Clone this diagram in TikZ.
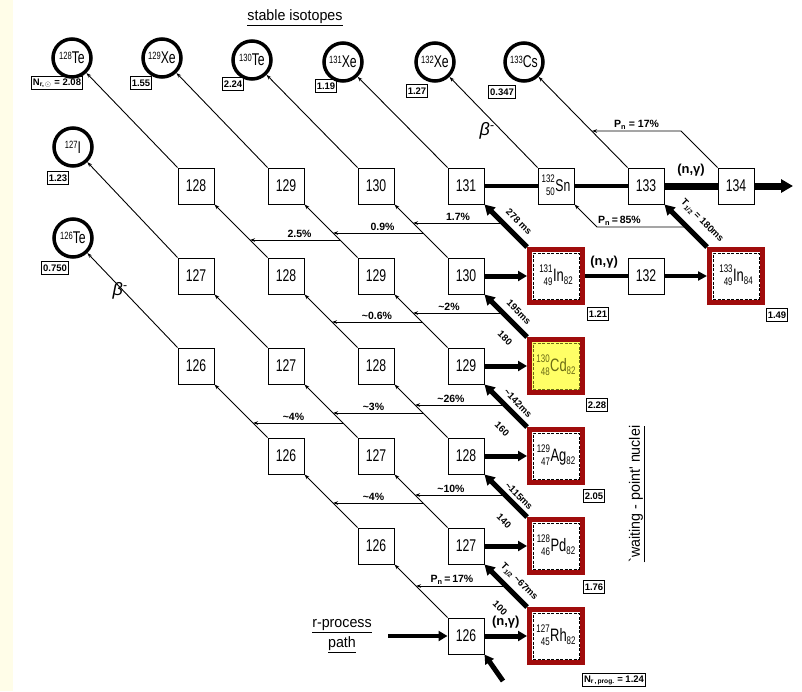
\documentclass[tikz,border=0pt]{standalone}
\usepackage{fontspec}
\setmainfont{Liberation Sans}
\newfontfamily\numfont{Liberation Sans}[FakeStretch=0.72]
\newfontfamily\labfont{Liberation Sans}[FakeStretch=0.95]
\usepackage{xcolor}
\definecolor{wpred}{RGB}{160,12,12}
\definecolor{cdyellow}{RGB}{255,255,102}
\definecolor{cdolive}{RGB}{105,105,20}
\definecolor{leftcream}{RGB}{255,253,232}
\usetikzlibrary{arrows.meta}

\newcommand{\iso}[2]{\raisebox{4.8pt}{\fontsize{10.5}{10}\selectfont#1}#2}
\newcommand{\prescr}[2]{\raisebox{3pt}{\fontsize{11}{13}\selectfont\begin{tabular}{@{}r@{}}#1\\#2\end{tabular}}}
\newcommand{\nucl}[4]{\prescr{#1}{#2}\kern0.5pt#3\raisebox{-2.5pt}{\fontsize{11}{10}\selectfont#4}}

\begin{document}
\begin{tikzpicture}[x=1pt,y=-1pt,
  nuc/.style={draw,line width=1pt,minimum size=36pt,inner sep=0pt,
    font=\numfont\fontsize{17}{18}\selectfont},
  stab/.style={circle,draw,line width=3.5pt,minimum size=38pt,inner sep=0pt,
    font=\numfont\fontsize{17}{18}\selectfont},
  abund/.style={draw,line width=1pt,inner sep=1.5pt,minimum height=13pt,
    font=\bfseries\fontsize{9.5}{10}\selectfont},
  wpframe/.style={draw=wpred,line width=5pt,minimum size=53pt,inner sep=0pt},
  wpbox/.style={draw,dash pattern=on 3pt off 1.5pt,line width=1pt,minimum size=46pt,
    inner sep=0pt,font=\numfont\fontsize{18}{18}\selectfont},
  beta/.style={-{Stealth[length=5pt,width=3.5pt]},line width=0.9pt},
  betawp/.style={-{Triangle[length=10pt,width=11pt]},line width=5pt},
  branch/.style={-{Stealth[length=5pt,width=3.5pt]},line width=0.9pt},
  ncap/.style={line width=4pt},
  ncapthick/.style={line width=7pt},
  ncaparr/.style={-{Triangle[length=9pt,width=10pt]},line width=5pt},
  plab/.style={font=\bfseries\fontsize{10.5}{11}\selectfont,inner sep=1.5pt},
  tlab/.style={font=\bfseries\fontsize{9.5}{10}\selectfont,rotate=-45,inner sep=1pt},
  nglab/.style={font=\bfseries\fontsize{13}{14}\selectfont},
  biglab/.style={font=\labfont\fontsize{15}{17}\selectfont}]
  \useasboundingbox (0,0) rectangle (802,691);
  \fill[leftcream] (0,0) rectangle (13,691);

  % stable isotopes
  \node[biglab] (stabtitle) at (295,18) {\underline{stable isotopes}};
  \node[stab] (te128) at (72,58) {\iso{128}{Te}};
  \node[stab] (xe129) at (162,58) {\iso{129}{Xe}};
  \node[stab] (te130) at (252,60) {\iso{130}{Te}};
  \node[stab] (xe131) at (343,62) {\iso{131}{Xe}};
  \node[stab] (xe132) at (435,62) {\iso{132}{Xe}};
  \node[stab] (cs133) at (524,62) {\iso{133}{Cs}};
  \node[stab] (i127) at (73,147) {\iso{127}{I}};
  \node[stab] (te126) at (73,238) {\iso{126}{Te}};
  \node[abund] (ab128) at (57,83) {N\textsubscript{r,\,$\odot$} = 2.08};
  \node[abund] (ab129) at (141,83) {1.55};
  \node[abund] (ab130) at (233,84) {2.24};
  \node[abund] (ab131) at (326,86) {1.19};
  \node[abund] (ab132) at (417,91) {1.27};
  \node[abund] (ab133) at (502,92) {0.347};
  \node[abund] (ab127) at (58,178) {1.23};
  \node[abund] (ab126) at (55,268) {0.750};

  % Sn row
  \node[nuc] (sn128) at (196,186) {128};
  \node[nuc] (sn129) at (286,186) {129};
  \node[nuc] (sn130) at (376,186) {130};
  \node[nuc] (sn131) at (466,186) {131};
  \node[nuc] (sn132) at (556,186) {\prescr{132}{50}\kern0.5pt Sn};
  \node[nuc] (sn133) at (646,186) {133};
  \node[nuc] (sn134) at (736,186) {134};
  % In row
  \node[nuc] (in127) at (196,276) {127};
  \node[nuc] (in128) at (286,276) {128};
  \node[nuc] (in129) at (376,276) {129};
  \node[nuc] (in130) at (466,276) {130};
  \node[wpframe] (fin131) at (556,276) {};
  \node[wpbox] (in131) at (556,276) {\nucl{131}{49}{In}{82}};
  \node[nuc] (in132) at (646,276) {132};
  \node[wpframe] (fin133) at (736,276) {};
  \node[wpbox] (in133) at (736,276) {\nucl{133}{49}{In}{84}};
  % Cd row
  \node[nuc] (cd126) at (196,366) {126};
  \node[nuc] (cd127) at (286,366) {127};
  \node[nuc] (cd128) at (376,366) {128};
  \node[nuc] (cd129) at (466,366) {129};
  \node[wpframe,fill=cdyellow] (fcd130) at (556,366) {};
  \node[wpbox,draw=cdolive,text=cdolive] (cd130) at (556,366) {\nucl{130}{48}{Cd}{82}};
  % Ag row
  \node[nuc] (ag126) at (286,456) {126};
  \node[nuc] (ag127) at (376,456) {127};
  \node[nuc] (ag128) at (466,456) {128};
  \node[wpframe] (fag129) at (556,456) {};
  \node[wpbox] (ag129) at (556,456) {\nucl{129}{47}{Ag}{82}};
  % Pd row
  \node[nuc] (pd126) at (376,546) {126};
  \node[nuc] (pd127) at (466,546) {127};
  \node[wpframe] (fpd128) at (556,546) {};
  \node[wpbox] (pd128) at (556,546) {\nucl{128}{46}{Pd}{82}};
  % Rh row
  \node[nuc] (rh126) at (466,636) {126};
  \node[wpframe] (frh127) at (556,636) {};
  \node[wpbox] (rh127) at (556,636) {\nucl{127}{45}{Rh}{82}};

  \node[abund] (ab131in) at (598,314) {1.21};
  \node[abund] (ab133in) at (777,315) {1.49};
  \node[abund] (ab130cd) at (597,405) {2.28};
  \node[abund] (ab129ag) at (594,496) {2.05};
  \node[abund] (ab128pd) at (594,587) {1.76};
  \node[abund] (ab127rh) at (614,680) {N\textsubscript{r\,,\,prog.} = 1.24};

  % beta decay chains
  \draw[beta] (rh126.north west) -- (pd126.south east);
  \draw[beta] (pd126.north west) -- (ag126.south east);
  \draw[beta] (ag126.north west) -- (cd126.south east);
  \draw[beta] (cd126.north west) -- (te126);
  \draw[beta] (pd127.north west) -- (ag127.south east);
  \draw[beta] (ag127.north west) -- (cd127.south east);
  \draw[beta] (cd127.north west) -- (in127.south east);
  \draw[beta] (in127.north west) -- (i127);
  \draw[beta] (ag128.north west) -- (cd128.south east);
  \draw[beta] (cd128.north west) -- (in128.south east);
  \draw[beta] (in128.north west) -- (sn128.south east);
  \draw[beta] (sn128.north west) -- (te128);
  \draw[beta] (cd129.north west) -- (in129.south east);
  \draw[beta] (in129.north west) -- (sn129.south east);
  \draw[beta] (sn129.north west) -- (xe129);
  \draw[beta] (in130.north west) -- (sn130.south east);
  \draw[beta] (sn130.north west) -- (te130);
  \draw[beta] (sn131.north west) -- (xe131);
  \draw[beta] (sn132.north west) -- (xe132);
  \draw[beta] (sn133.north west) -- (cs133);
  \draw[betawp] (fin131.north west) -- (sn131.south east);
  \draw[betawp] (fin133.north west) -- (sn133.south east);
  \draw[betawp] (fcd130.north west) -- (in130.south east);
  \draw[betawp] (fag129.north west) -- (cd129.south east);
  \draw[betawp] (fpd128.north west) -- (ag128.south east);
  \draw[betawp] (frh127.north west) -- (pd127.south east);

  % beta-delayed neutron branches
  \coordinate (p17a) at (681,131); \coordinate (p17b) at (592,131);
  \draw[branch] (sn134.north west) -- (p17a) -- node[plab,above]{P\textsubscript{n} = 17\%} (p17b);
  \coordinate (p85a) at (687,227); \coordinate (p85b) at (597,227);
  \draw[branch] (p85a) -- node[plab,above,pos=0.75]{P\textsubscript{n}\,=\,85\%} (p85b) -- (sn132.south east);
  \coordinate (b17a) at (503,223); \coordinate (b17b) at (413,223);
  \draw[branch] (b17a) -- node[plab,above]{1.7\%} (b17b);
  \coordinate (b09a) at (423,233); \coordinate (b09b) at (333,233);
  \draw[branch] (b09a) -- node[plab,above,pos=0.45]{0.9\%} (b09b);
  \coordinate (b25a) at (340,240); \coordinate (b25b) at (250,240);
  \draw[branch] (b25a) -- node[plab,above,pos=0.45]{2.5\%} (b25b);
  \coordinate (b2a) at (503,313); \coordinate (b2b) at (413,313);
  \draw[branch] (b2a) -- node[plab,above,pos=0.6]{\textasciitilde2\%} (b2b);
  \coordinate (b06a) at (422,322); \coordinate (b06b) at (332,322);
  \draw[branch] (b06a) -- node[plab,above]{\textasciitilde0.6\%} (b06b);
  \coordinate (b26a) at (505,405); \coordinate (b26b) at (415,405);
  \draw[branch] (b26a) -- node[plab,above,pos=0.6]{\textasciitilde26\%} (b26b);
  \coordinate (b3a) at (423,413); \coordinate (b3b) at (333,413);
  \draw[branch] (b3a) -- node[plab,above,pos=0.55]{\textasciitilde3\%} (b3b);
  \coordinate (b4a) at (343,423); \coordinate (b4b) at (253,423);
  \draw[branch] (b4a) -- node[plab,above,pos=0.55]{\textasciitilde4\%} (b4b);
  \coordinate (b10a) at (505,495); \coordinate (b10b) at (415,495);
  \draw[branch] (b10a) -- node[plab,above,pos=0.6]{\textasciitilde10\%} (b10b);
  \coordinate (b4c) at (423,503); \coordinate (b4d) at (333,503);
  \draw[branch] (b4c) -- node[plab,above,pos=0.55]{\textasciitilde4\%} (b4d);
  \coordinate (b17c) at (506,586); \coordinate (b17d) at (416,586);
  \draw[branch] (b17c) -- node[plab,above,pos=0.6]{P\textsubscript{n}\,=\,17\%} (b17d);

  % half-lives along the waiting-point decays
  \node[tlab] (hl131) at (519,222) {278 ms};
  \node[tlab] (hl133) at (702,221) {T\textsubscript{1/2} = 180ms};
  \node[tlab] (hl130) at (519,312) {195ms};
  \node[tlab] (nn130) at (505,338) {180};
  \node[tlab] (hl129) at (518,403) {\textasciitilde142ms};
  \node[tlab] (nn129) at (502,429) {160};
  \node[tlab] (hl128) at (519,496) {\textasciitilde115ms};
  \node[tlab] (nn128) at (504,521) {140};
  \node[tlab] (hl127) at (519,582) {T\textsubscript{1/2} \textasciitilde67ms};
  \node[tlab] (nn127) at (500,608) {100};

  % neutron captures along the path
  \coordinate (rpout) at (793,186);
  \draw[ncap] (sn131) -- (sn132);
  \draw[ncap] (sn132) -- (sn133);
  \draw[ncapthick] (sn133) -- node[nglab,above=3pt]{(n,γ)} (sn134);
  \draw[ncapthick,-{Triangle[length=12pt,width=13pt]}] (sn134) -- (rpout);
  \draw[ncaparr] (in130) -- (fin131);
  \draw[ncap] (fin131) -- node[nglab,above=2pt,pos=0.45]{(n,γ)} (in132);
  \draw[ncap,-{Triangle[length=9pt,width=9pt]}] (in132) -- (fin133);
  \draw[ncaparr] (cd129) -- (fcd130);
  \draw[ncaparr] (ag128) -- (fag129);
  \draw[ncaparr] (pd127) -- (fpd128);
  \draw[ncaparr] (rh126) -- node[nglab,above=2pt]{(n,γ)} (frh127);
  \coordinate (rpin) at (388,636);
  \coordinate (rpfeed) at (503,681);
  \draw[ncaparr,line width=4pt] (rpin) -- (rh126);
  \draw[ncaparr] (rpfeed) -- (rh126.south east);

  \node[biglab,align=center] (rptext) at (342,636) {\underline{r-process}\\[3pt]\underline{path}};
  \node[biglab,rotate=90] (wptext) at (637,494) {\underline{`waiting - point' nuclei}};
  \node[font=\itshape\fontsize{18}{20}\selectfont] (betaup) at (487,131) {β\textsuperscript{-}};
  \node[font=\itshape\fontsize{18}{20}\selectfont] (betalow) at (120,291) {β\textsuperscript{-}};
\end{tikzpicture}
\end{document}
